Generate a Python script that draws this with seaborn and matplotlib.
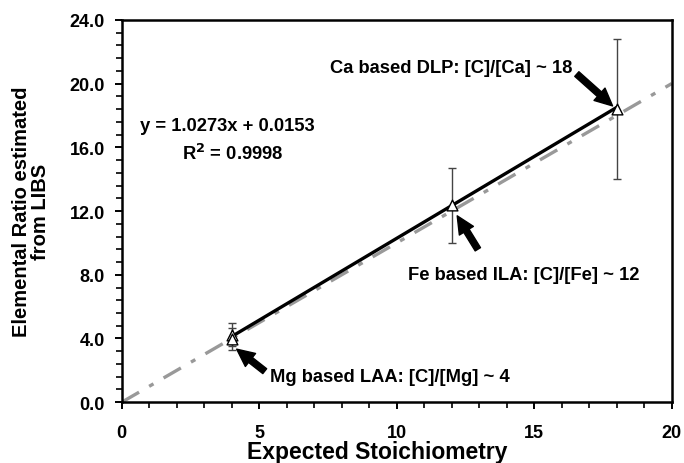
import matplotlib
matplotlib.use("Agg")
import matplotlib.pyplot as plt
import seaborn as sns
import pandas as pd
import numpy as np

# Data
expected = [4, 4, 12, 18]
measured = [4.25, 3.95, 12.35, 18.4]
errors = [0.75, 0.7, 2.35, 4.4]
slope = 1.0273
intercept = 0.0153
fit_x = [4, 18]
ref_x = [0, 20]
ref_y = [0, 20]
x_ticks = [0, 5, 10, 15, 20]
y_ticks = [0.0, 4.0, 8.0, 12.0, 16.0, 20.0, 24.0]

sns.set_theme(style="ticks")
plt.rcParams['font.family'] = ['Liberation Sans', 'DejaVu Sans']
plt.rcParams['font.weight'] = 'bold'
plt.rcParams['text.color'] = 'black'
plt.rcParams['axes.labelcolor'] = 'black'
plt.rcParams['xtick.color'] = 'black'
plt.rcParams['ytick.color'] = 'black'

fig = plt.figure(figsize=(6.84, 4.64), dpi=100)
ax = fig.add_axes([0.178, 0.131, 0.804, 0.824])

# reference dash-dot line y = x
ref_df = pd.DataFrame({"x": ref_x, "y": ref_y})
sns.lineplot(data=ref_df, x="x", y="y", ax=ax, color="#999999", lw=2.4,
             linestyle=(0, (6, 3.5, 1.5, 3.5)), zorder=2)

# fit line
fit_df = pd.DataFrame({"x": fit_x, "y": [slope * v + intercept for v in fit_x]})
sns.lineplot(data=fit_df, x="x", y="y", ax=ax, color="black", lw=2.4, zorder=3)

# error bars
ax.errorbar(expected, measured, yerr=errors, fmt="none", ecolor="#444444",
            elinewidth=1.0, capsize=2.8, capthick=1.0, zorder=4)

# points
pts = pd.DataFrame({"x": expected, "y": measured})
sns.scatterplot(data=pts, x="x", y="y", ax=ax, marker="^", s=60,
                facecolor="white", edgecolor="black", linewidth=1.0, zorder=5)

ax.set_xlim(0, 20)
ax.set_ylim(0, 24)
ax.set_xticks(x_ticks)
ax.set_xticklabels([str(v) for v in x_ticks])
ax.set_yticks(y_ticks)
ax.set_yticklabels([f"{v:.1f}" for v in y_ticks])
ax.set_xticks(np.arange(0, 21, 1), minor=True)
ax.set_yticks(np.arange(0, 24.01, 0.8), minor=True)
ax.tick_params(axis="x", which="major", direction="out", length=5, width=1.4,
               labelsize=13, pad=11, colors="black")
ax.tick_params(axis="y", which="major", direction="out", length=5, width=1.4,
               labelsize=13, pad=7, colors="black")
ax.tick_params(axis="both", which="minor", direction="out", length=4, width=1.2,
               colors="black")
for lab in ax.get_xticklabels() + ax.get_yticklabels():
    lab.set_fontweight("bold")
for sp in ax.spines.values():
    sp.set_linewidth(1.8)
    sp.set_color("black")

ax.set_xlabel("Expected Stoichiometry", fontsize=16.5, fontweight="bold", color="black")
ax.xaxis.set_label_coords(0.465, -0.098)
ax.set_ylabel("Elemental Ratio estimated\nfrom LIBS", fontsize=14.5,
              fontweight="bold", linespacing=1.0, color="black")
ax.yaxis.set_label_coords(-0.13, 0.5)

txt_kw = dict(fontsize=13.2, fontweight="bold", color="black", va="baseline")
ax.text(0.65, 17.06, "y = 1.0273x + 0.0153", ha="left", **txt_kw)
ax.text(2.18, 15.28, "R$^2$ = 0.9998", ha="left", **txt_kw)
ax.text(16.4, 20.7, "Ca based DLP: [C]/[Ca] ~ 18", ha="right", **txt_kw)
ax.text(10.4, 7.74, "Fe based ILA: [C]/[Fe] ~ 12", ha="left", **txt_kw)
ax.text(5.38, 1.34, "Mg based LAA: [C]/[Mg] ~ 4", ha="left", **txt_kw)

arrow = dict(arrowstyle="simple,head_width=0.85,head_length=0.9,tail_width=0.32",
             color="black", shrinkA=0, shrinkB=0, mutation_scale=14)
ax.annotate("", xy=(17.85, 18.6), xytext=(16.55, 20.6), arrowprops=arrow)
ax.annotate("", xy=(12.2, 11.7), xytext=(12.95, 9.6), arrowprops=arrow)
ax.annotate("", xy=(4.18, 3.33), xytext=(5.2, 1.95), arrowprops=arrow)

fig.savefig("out.png", dpi=100)
